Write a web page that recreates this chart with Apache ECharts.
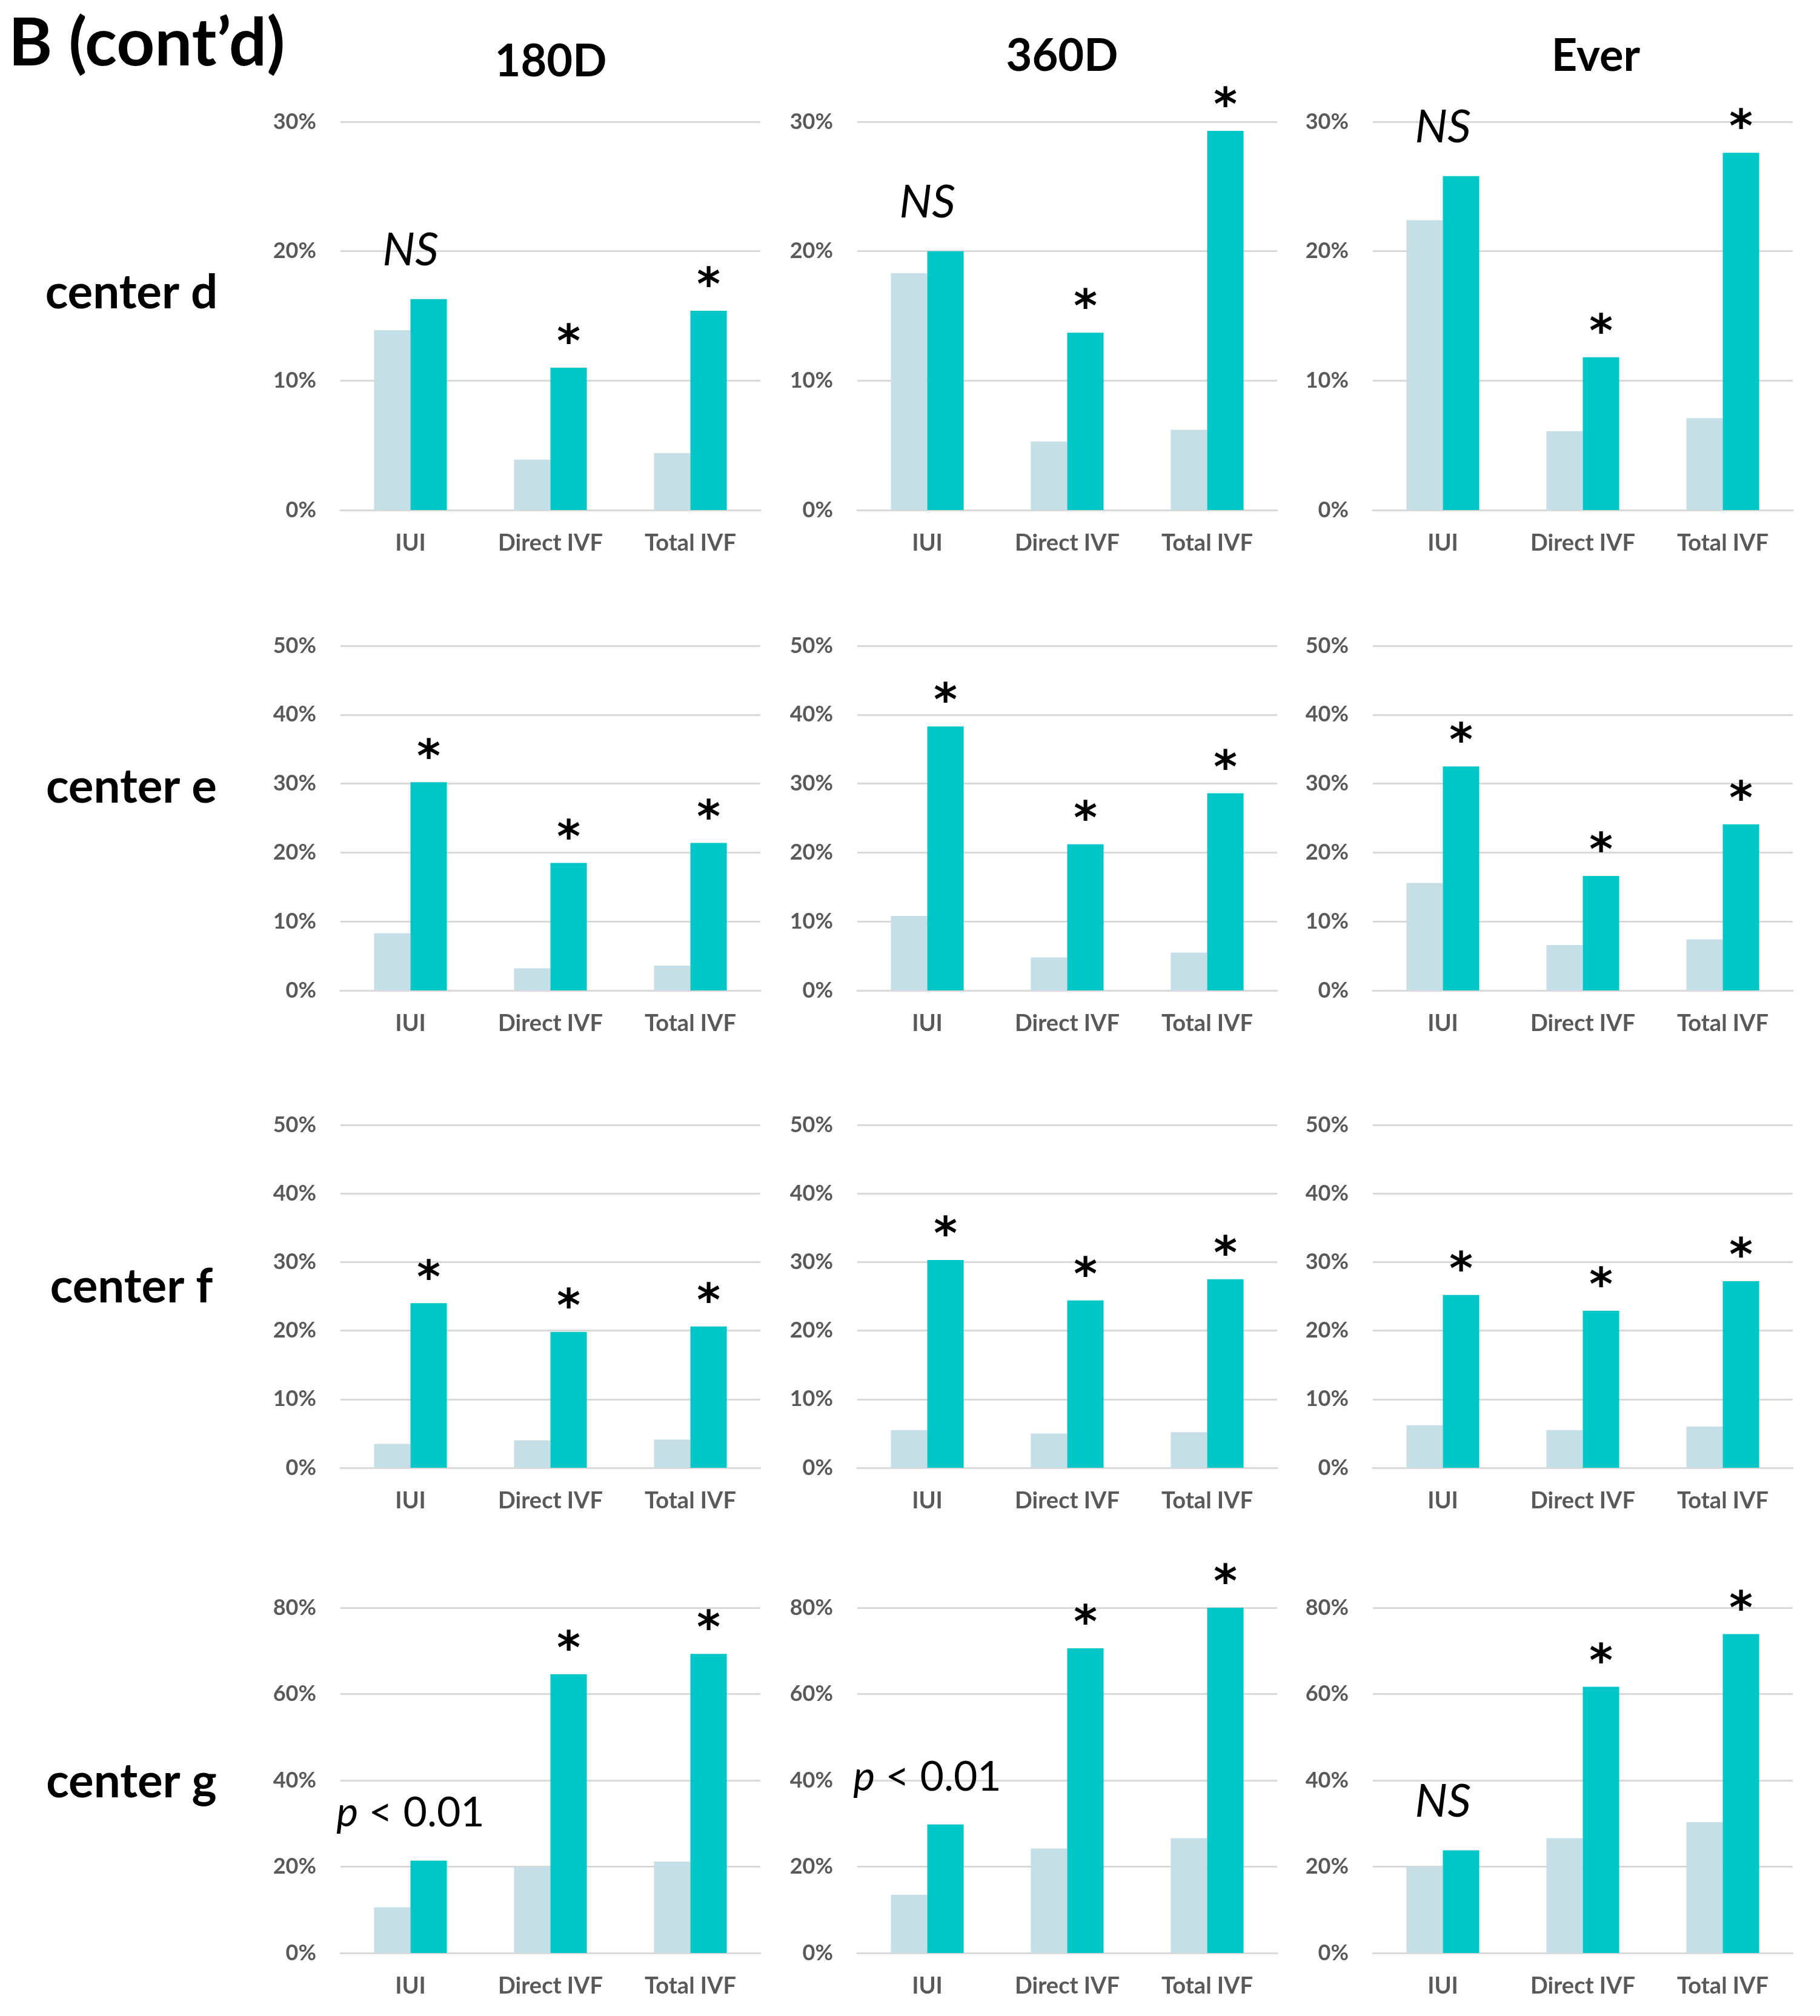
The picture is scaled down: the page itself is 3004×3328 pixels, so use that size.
<!DOCTYPE html>
<html>
<head>
<meta charset="utf-8">
<script src="https://cdn.jsdelivr.net/npm/echarts@6/dist/echarts.min.js"></script>
<style>
  html, body { margin: 0; padding: 0; background: #fff; }
  #chart { width: 3004px; height: 3328px; }
</style>
</head>
<body>
<div id="chart"></div>
<script>
const categories = ['IUI', 'Direct IVF', 'Total IVF'];
const periods = ['180D', '360D', 'Ever'];
const centerNames = ['center d', 'center e', 'center f', 'center g'];
const axisMax = [30, 50, 50, 80];
const axisStep = [10, 10, 10, 20];

// per center: [180D, 360D, Ever], each [IUI, Direct IVF, Total IVF], in %
const centerD_ref = [[13.9, 3.9, 4.4], [18.3, 5.3, 6.2], [22.4, 6.1, 7.1]];
const centerD_cmp = [[16.3, 11.0, 15.4], [20.0, 13.7, 29.3], [25.8, 11.8, 27.6]];
const centerE_ref = [[8.3, 3.2, 3.6], [10.8, 4.8, 5.5], [15.6, 6.6, 7.4]];
const centerE_cmp = [[30.2, 18.5, 21.4], [38.3, 21.2, 28.6], [32.5, 16.6, 24.1]];
const centerF_ref = [[3.5, 4.0, 4.1], [5.5, 5.0, 5.2], [6.2, 5.5, 6.0]];
const centerF_cmp = [[24.0, 19.8, 20.6], [30.3, 24.4, 27.5], [25.2, 22.9, 27.2]];
const centerG_ref = [[10.6, 20.0, 21.2], [13.5, 24.2, 26.6], [20.0, 26.6, 30.3]];
const centerG_cmp = [[21.4, 64.6, 69.3], [29.8, 70.6, 80.0], [23.8, 61.7, 73.9]];

// significance marks above each group
const centerD_marks = [['NS', '*', '*'], ['NS', '*', '*'], ['NS', '*', '*']];
const centerE_marks = [['*', '*', '*'], ['*', '*', '*'], ['*', '*', '*']];
const centerF_marks = [['*', '*', '*'], ['*', '*', '*'], ['*', '*', '*']];
const centerG_marks = [['p < 0.01', '*', '*'], ['p < 0.01', '*', '*'], ['NS', '*', '*']];

const refRows = [centerD_ref, centerE_ref, centerF_ref, centerG_ref];
const cmpRows = [centerD_cmp, centerE_cmp, centerF_cmp, centerG_cmp];
const markRows = [centerD_marks, centerE_marks, centerF_marks, centerG_marks];

const FONT = 'Lato, "Open Sans", sans-serif';
const LIGHT = '#c6dfe6';
const TEAL = '#00c6c8';
const GRIDC = '#d9d9d9';
const TICKC = '#595959';

// layout (px)
const colLeft = [562, 1415, 2266];
const gridW = 693;
const rowTop = [201, 1066, 1857, 2654];
const rowBottom = [842, 1635, 2423, 3224];

function markLabel(m) {
  if (m === '*') {
    return { show: true, position: 'top', formatter: '*', distance: 0,
      fontFamily: '"DejaVu Sans", sans-serif', fontSize: 74, fontWeight: 'bold', color: '#000' };
  }
  if (m === 'NS') {
    return { show: true, position: 'top', formatter: 'NS', distance: 42, offset: [-30, 0],
      fontFamily: FONT, fontSize: 76, fontStyle: 'italic', color: '#000' };
  }
  if (m) {
    return { show: true, position: 'top', formatter: '{i|p} < 0.01', distance: 44, offset: [-30, 0],
      fontFamily: FONT, fontSize: 68, color: '#000',
      rich: { i: { fontFamily: FONT, fontSize: 68, fontStyle: 'italic', color: '#000' } } };
  }
  return { show: false };
}

const grids = [], xAxes = [], yAxes = [], series = [];
let gi = 0;
for (let r = 0; r < 4; r++) {
  for (let c = 0; c < 3; c++) {
    grids.push({ left: colLeft[c], width: gridW, top: rowTop[r], height: rowBottom[r] - rowTop[r] });
    xAxes.push({
      type: 'category', gridIndex: gi, data: categories,
      axisTick: { show: false },
      axisLine: { lineStyle: { color: GRIDC, width: 3 } },
      axisLabel: { fontFamily: FONT, fontSize: 38, fontWeight: 'bold', color: TICKC, margin: 36 }
    });
    yAxes.push({
      type: 'value', gridIndex: gi, min: 0, max: axisMax[r], interval: axisStep[r],
      axisLine: { show: false }, axisTick: { show: false },
      splitLine: { lineStyle: { color: GRIDC, width: 3 } },
      axisLabel: { formatter: '{value}%', fontFamily: FONT, fontSize: 36, fontWeight: 'bold', color: TICKC, margin: 40 }
    });
    series.push({
      type: 'bar', xAxisIndex: gi, yAxisIndex: gi,
      data: refRows[r][c], barWidth: '26%', barGap: '0%',
      itemStyle: { color: LIGHT }, silent: true
    });
    series.push({
      type: 'bar', xAxisIndex: gi, yAxisIndex: gi,
      data: cmpRows[r][c].map((v, i) => ({ value: v, label: markLabel(markRows[r][c][i]) })),
      barWidth: '26%', barGap: '0%',
      itemStyle: { color: TEAL }, silent: true
    });
    gi++;
  }
}

const texts = [];
texts.push({ type: 'text', left: 14, top: 18,
  style: { text: 'B (cont\u2019d)', font: 'bold 110px ' + FONT, fill: '#000' } });
const colTitleX = [909, 1753, 2634];
const colTitleY = [102, 93, 93];
periods.forEach((p, i) => texts.push({ type: 'text', x: colTitleX[i], y: colTitleY[i],
  style: { text: p, font: 'bold 74px ' + FONT, fill: '#000', align: 'center', verticalAlign: 'middle' } }));
const rowLabelY = [484, 1300, 2125, 2942];
centerNames.forEach((n, i) => texts.push({ type: 'text', x: 217, y: rowLabelY[i],
  style: { text: n, font: 'bold 78px ' + FONT, fill: '#000', align: 'center', verticalAlign: 'middle' } }));

const chart = echarts.init(document.getElementById('chart'));
chart.setOption({
  animation: false,
  backgroundColor: '#ffffff',
  grid: grids,
  xAxis: xAxes,
  yAxis: yAxes,
  series: series,
  graphic: texts
});
</script>
</body>
</html>
